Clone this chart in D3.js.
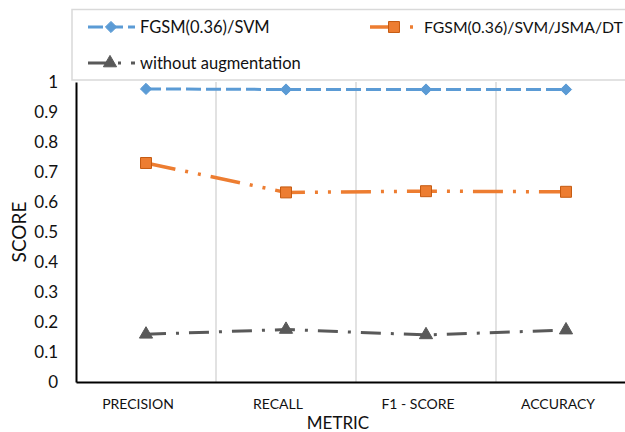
<!DOCTYPE html>
<html>
<head>
<meta charset="utf-8">
<script src="https://cdn.jsdelivr.net/npm/d3@7"></script>
<style>
  html, body { margin: 0; padding: 0; background: #fff; overflow: hidden; }
  svg { display: block; font-family: Lato, "Noto Sans", sans-serif; }
</style>
</head>
<body>
<svg id="chart" width="625" height="432"></svg>
<script>
const categories = ["PRECISION", "RECALL", "F1 - SCORE", "ACCURACY"];
const seriesNames = ["FGSM(0.36)/SVM", "FGSM(0.36)/SVM/JSMA/DT", "without augmentation"];
const fgsmSvm = [0.977, 0.975, 0.975, 0.975];
const fgsmSvmJsmaDt = [0.730, 0.632, 0.636, 0.634];
const withoutAug = [0.159, 0.175, 0.157, 0.173];
const yTicks = [0, 0.1, 0.2, 0.3, 0.4, 0.5, 0.6, 0.7, 0.8, 0.9, 1];
const yTickLabels = ["0", "0.1", "0.2", "0.3", "0.4", "0.5", "0.6", "0.7", "0.8", "0.9", "1"];

const svg = d3.select("#chart");
const x = d3.scaleBand().domain(categories).range([76, 636]).paddingInner(0).paddingOuter(0);
const y = d3.scaleLinear().domain([0, 1]).range([382, 82]);

const series = [
  { name: seriesNames[0], values: fgsmSvm, color: "#5b9bd5", dash: "15,5", width: 3, marker: "diamond", stroke: "#5b9bd5" },
  { name: seriesNames[1], values: fgsmSvmJsmaDt, color: "#ed7d31", dash: "30,10,3,10,3,10", width: 3.5, marker: "square", stroke: "#c55a11" },
  { name: seriesNames[2], values: withoutAug, color: "#595959", dash: "20,10,3,10", width: 3, marker: "triangle", stroke: "#595959" }
];

// vertical gridlines at category boundaries
const bounds = categories.map(c => x(c) + x.bandwidth());
svg.append("g").selectAll("line").data(bounds).join("line")
  .attr("x1", d => d).attr("x2", d => d)
  .attr("y1", y(1)).attr("y2", y(0))
  .attr("stroke", "#d9d9d9").attr("stroke-width", 1.5);

// axes
const yAxis = d3.axisLeft(y).tickValues(yTicks).tickSize(0).tickPadding(18)
  .tickFormat((d, i) => yTickLabels[i]);
const gy = svg.append("g").attr("transform", "translate(76,0)").call(yAxis);
gy.select(".domain").attr("stroke", "#000").attr("stroke-width", 2);
gy.selectAll("text").attr("font-size", 17).attr("fill", "#111").attr("font-family", "Lato");

const xAxis = d3.axisBottom(x).tickSize(0).tickPadding(17);
const gx = svg.append("g").attr("transform", "translate(0,382)").call(xAxis);
gx.select(".domain").attr("stroke", "#000").attr("stroke-width", 2);
gx.selectAll("text").attr("font-size", 14).attr("fill", "#111").attr("font-family", "Lato")
  .attr("dx", -8);

// axis titles
svg.append("text").attr("x", 338).attr("y", 429).attr("text-anchor", "middle")
  .attr("font-size", 17).attr("fill", "#111").text("METRIC");
svg.append("text").attr("transform", "translate(26,232) rotate(-90)").attr("text-anchor", "middle")
  .attr("font-size", 19).attr("fill", "#111").text("SCORE");

// marker helper
const sym = {
  diamond: d3.symbol().type(d3.symbolDiamond2).size(80),
  square: d3.symbol().type(d3.symbolSquare).size(120),
  triangle: d3.symbol().type(d3.symbolTriangle).size(75)
};

const line = d3.line().x((d, i) => x(categories[i]) + x.bandwidth() / 2).y(d => y(d));

series.forEach(s => {
  svg.append("path").datum(s.values).attr("d", line)
    .attr("fill", "none").attr("stroke", s.color).attr("stroke-width", s.width)
    .attr("stroke-dasharray", s.dash);
});
series.forEach(s => {
  svg.append("g").selectAll("path").data(s.values).join("path")
    .attr("d", sym[s.marker])
    .attr("transform", (d, i) => `translate(${x(categories[i]) + x.bandwidth() / 2},${y(d)})`)
    .attr("fill", s.color).attr("stroke", s.stroke).attr("stroke-width", 1);
});

// legend
const lg = svg.append("g");
lg.append("rect").attr("x", 72).attr("y", 9.5).attr("width", 600).attr("height", 70.5)
  .attr("fill", "#fff").attr("stroke", "#d9d9d9").attr("stroke-width", 1.5);
const legendPos = [
  { x0: 88, x1: 135, mx: 111, tx: 140, y: 27, fs: 16.5 },
  { x0: 370, x1: 418, mx: 394, tx: 424, y: 27, fs: 15.8 },
  { x0: 88, x1: 135, mx: 110, tx: 140, y: 63, fs: 16.5 }
];
series.forEach((s, i) => {
  const p = legendPos[i];
  lg.append("line").attr("x1", p.x0).attr("x2", p.x1).attr("y1", p.y).attr("y2", p.y)
    .attr("stroke", s.color).attr("stroke-width", s.width).attr("stroke-dasharray", s.dash);
  lg.append("path").attr("d", sym[s.marker]).attr("transform", `translate(${p.mx},${p.y})`)
    .attr("fill", s.color).attr("stroke", s.stroke).attr("stroke-width", 1);
  lg.append("text").attr("x", p.tx).attr("y", p.y + 6).attr("font-size", p.fs).attr("fill", "#111")
    .text(s.name);
});
</script>
</body>
</html>
